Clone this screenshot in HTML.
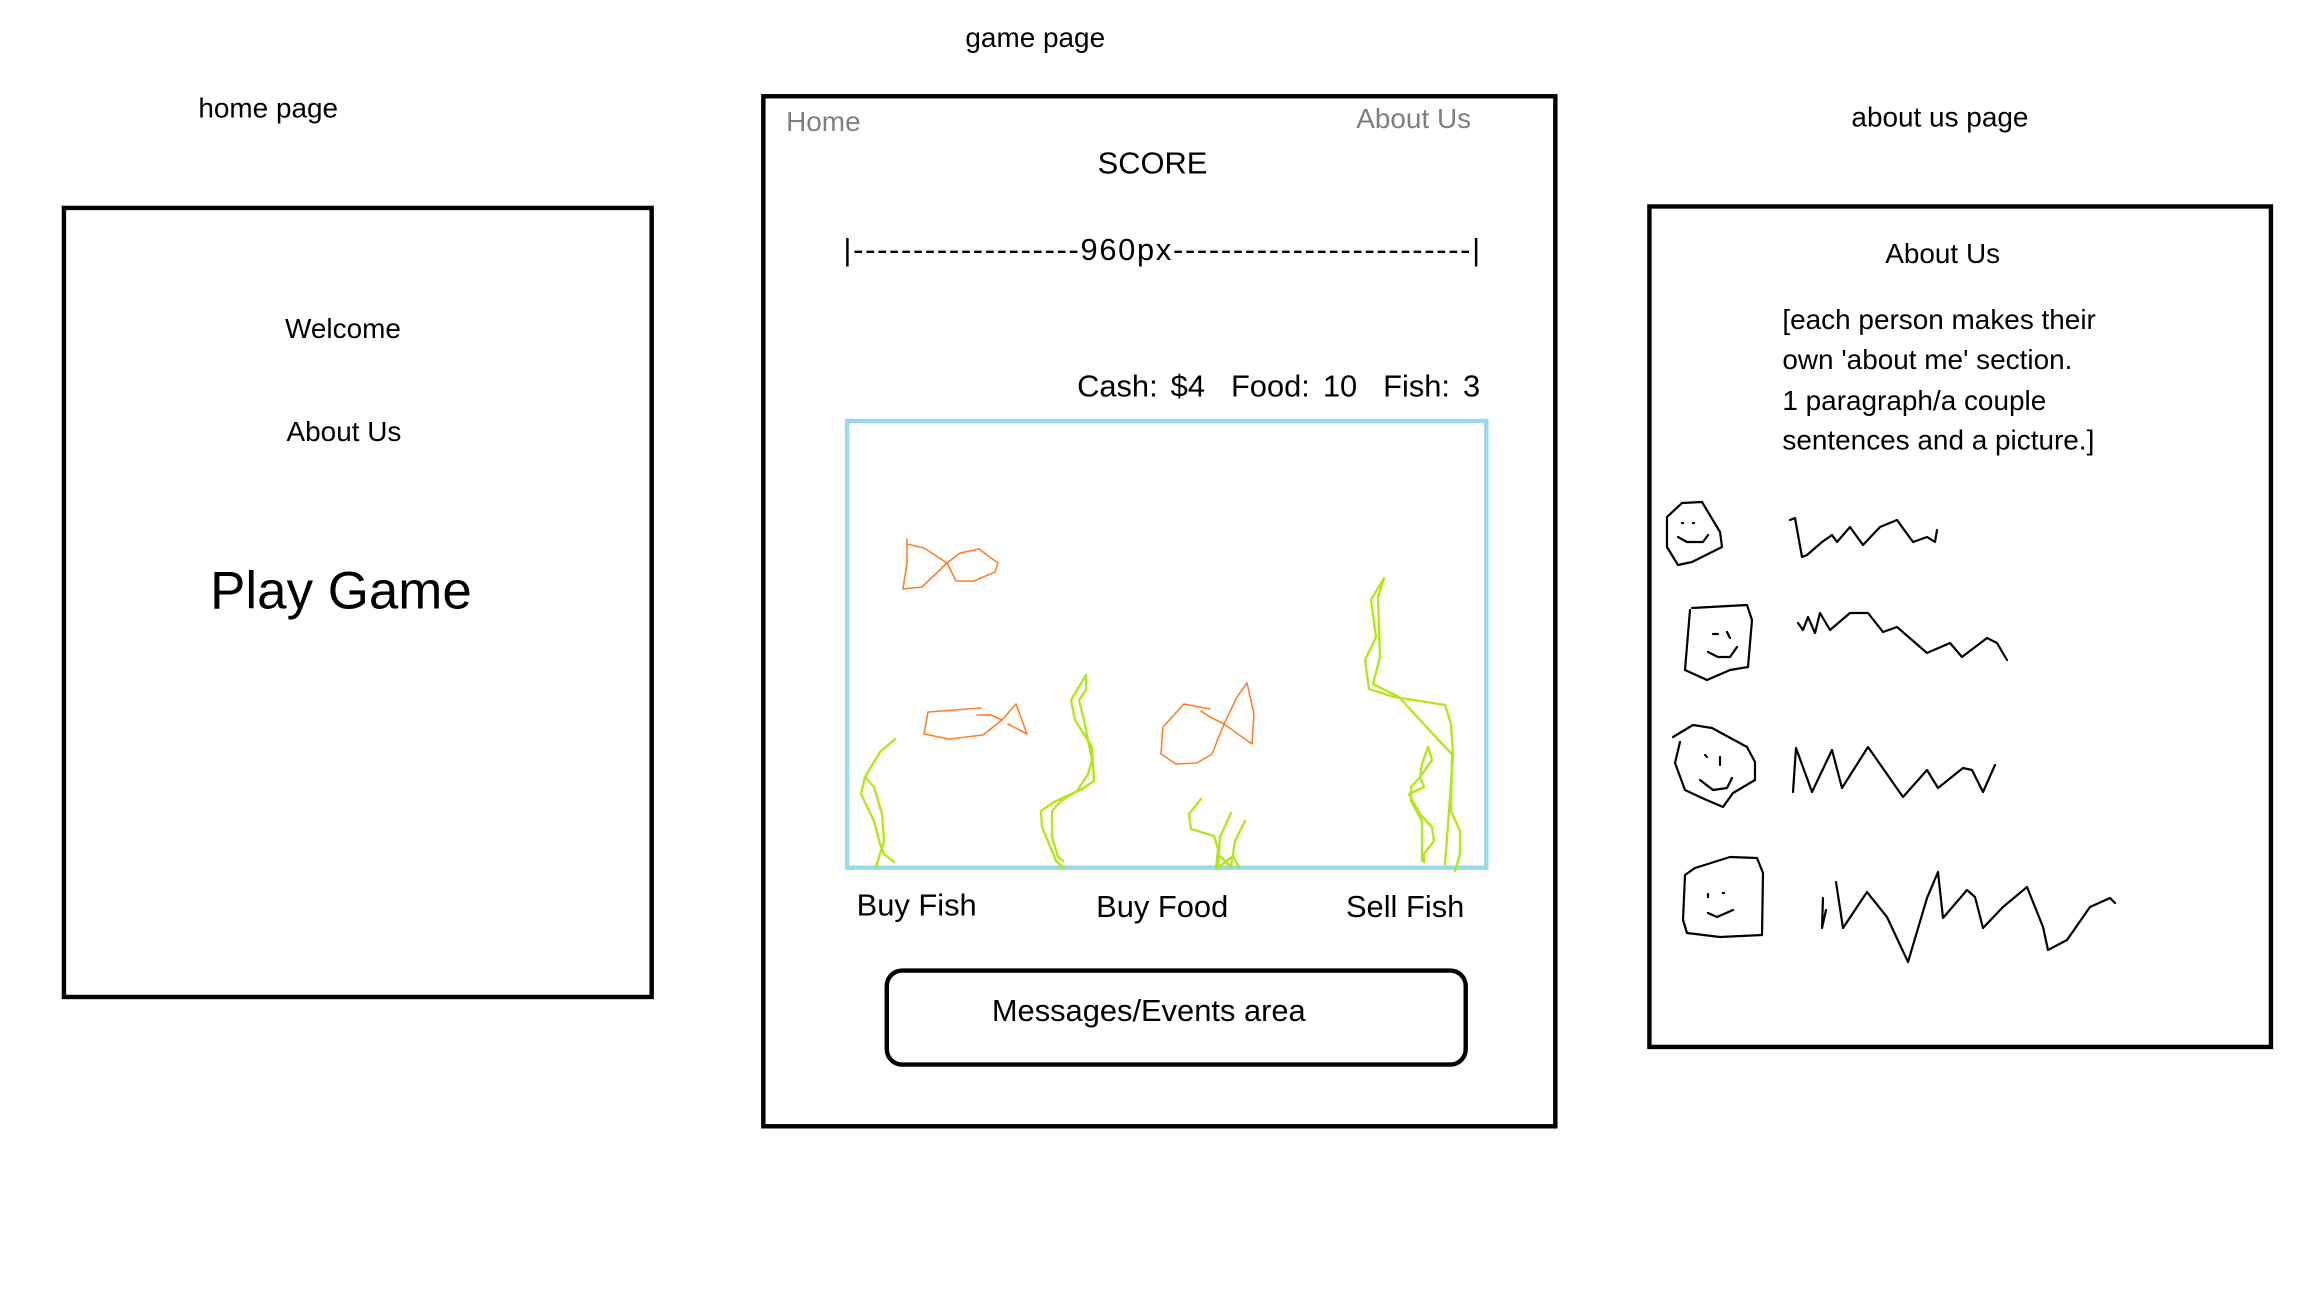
<!DOCTYPE html>
<html><head><meta charset="utf-8"><style>
html,body{margin:0;padding:0;background:#fff;width:2304px;height:1296px;overflow:hidden}
#wrap{position:absolute;left:0;top:0;width:1568px;height:882px;transform:scale(1.46939);transform-origin:0 0;font-family:"Liberation Sans",sans-serif;color:#000}
.t{position:absolute;white-space:nowrap;line-height:1}
.box{position:absolute;border:3px solid #000;box-sizing:border-box}
svg{position:absolute;left:0;top:0}
</style></head><body>
<div id="wrap">
<div class="t" style="left:135px;top:65px;font-size:19px">home page</div>
<div class="t" style="left:657px;top:17px;font-size:19px">game page</div>
<div class="t" style="left:1260px;top:71px;font-size:19px">about us page</div>

<div class="box" style="left:42px;top:140px;width:403px;height:540px"></div>
<div class="t" style="left:194px;top:215px;font-size:19px">Welcome</div>
<div class="t" style="left:195px;top:285px;font-size:19px">About Us</div>
<div class="t" style="left:143px;top:384px;font-size:36px">Play Game</div>

<div class="box" style="left:518px;top:64px;width:542px;height:704px"></div>
<div class="t" style="left:535px;top:74px;font-size:19px;color:#7f7f7f">Home</div>
<div class="t" style="left:923px;top:72px;font-size:19px;color:#7f7f7f">About Us</div>
<div class="t" style="left:747px;top:101px;font-size:21px">SCORE</div>
<div class="t" style="left:574px;top:160px;font-size:21px;letter-spacing:1.15px">|-------------------960px-------------------------|</div>
<div class="t" style="left:733px;top:253px;font-size:21px;word-spacing:3px">Cash: $4&nbsp;&nbsp;Food: 10&nbsp;&nbsp;Fish: 3</div>
<div class="box" style="left:575px;top:285px;width:438px;height:307px;border-color:#99d9ea"></div>
<div class="t" style="left:583px;top:606px;font-size:21px">Buy Fish</div>
<div class="t" style="left:746px;top:607px;font-size:21px">Buy Food</div>
<div class="t" style="left:916px;top:607px;font-size:21px">Sell Fish</div>
<div class="box" style="left:602px;top:659px;width:397px;height:67px;border-radius:12px"></div>
<div class="t" style="left:675px;top:678px;font-size:21px">Messages/Events area</div>

<div class="box" style="left:1121px;top:139px;width:426px;height:575px"></div>
<div class="t" style="left:1283px;top:164px;font-size:19px">About Us</div>
<div class="t" style="left:1213px;top:205px;font-size:19px;line-height:27.3px">[each person makes their<br>own 'about me' section.<br>1 paragraph/a couple<br>sentences and a picture.]</div>

<svg width="1568" height="882" viewBox="0 0 2304 1296" fill="none" stroke-linejoin="round" stroke-linecap="round">
<g stroke="#ff7f27" stroke-width="1.6">
<path d="M907,539 L907,563 L903,589 L922,587 L947,563 L924,548 L907,544 M947,563 L960,553 L979,549 L998,563 L995,572 L974,581 L956,581 Z"/>
<path d="M981,708 L928,712 L924,734 L949,739 L983,735 L1002,720 L991,715 L977,715 M1002,720 L1016,704 L1027,734 L1008,724"/>
<path d="M1210,709 L1184,704 L1163,727 L1161,754 L1176,764 L1197,763 L1212,754 L1224,724 L1210,717 L1201,711 M1224,724 L1237,697 L1247,683 L1254,714 L1252,744 Z"/>
</g>
<g stroke="#b5e61d" stroke-width="2.4">
<path d="M895,739 L880,752 L865,777 L861,794 L874,821 L880,844 L884,854 L894,862 M865,777 L874,787 L882,814 L884,841 L876,867"/>
<path d="M1086,675 L1071,700 L1075,720 L1092,747 L1094,781 L1082,789 L1054,802 L1041,811 L1042,827 L1052,851 L1056,861 L1065,869 M1086,675 L1086,690 L1079,700 L1084,720 L1092,760 L1088,774 L1077,791 L1061,801 L1052,811 L1052,837 L1058,857 L1063,861"/>
<path d="M1201,799 L1189,814 L1191,829 L1214,836 L1218,849 L1216,869 L1233,856 L1239,867 M1231,813 L1220,837 L1218,867 M1245,821 L1235,841 L1231,867 L1218,854"/>
<path d="M1384,578 L1371,600 L1376,637 L1365,660 L1369,689 L1394,697 L1445,705 L1451,724 L1453,754 L1449,811 L1445,864 M1384,578 L1378,597 L1380,657 L1373,684 L1399,697 L1420,720 L1445,747 L1452,754 L1451,811 L1460,831 L1460,854 L1455,871"/>
<path d="M1428,747 L1432,760 L1420,777 L1424,787 L1409,794 L1420,814 L1432,827 L1434,841 L1424,854 L1424,862 M1428,747 L1422,764 L1420,777 L1411,787 L1411,801 L1422,821 L1422,861"/>
</g>
<g stroke="#000" stroke-width="2.2">
<path d="M1702,502 L1720,532 L1722,547 L1692,562 L1678,565 L1667,547 L1667,517 L1682,503 Z M1678,537 L1687,542 L1703,542 L1708,535 M1682,523 l1,0 M1693,523 l1,0"/>
<path d="M1790,520 L1795,518 L1802,557 L1807,555 L1822,542 L1832,535 L1837,542 L1850,527 L1863,545 L1880,527 L1897,520 L1913,542 L1927,537 L1935,542 L1937,530"/>
<path d="M1692,608 L1747,605 L1752,620 L1748,667 L1730,670 L1707,680 L1685,670 L1690,610 M1708,652 L1718,657 L1730,657 L1737,647 M1713,634 l5,0 M1727,632 l3,6"/>
<path d="M1798,623 L1803,630 L1808,617 L1815,633 L1820,613 L1830,630 L1850,613 L1868,613 L1883,632 L1897,627 L1927,653 L1950,643 L1962,657 L1987,638 L1997,643 L2007,660"/>
<path d="M1673,737 L1693,725 L1712,728 L1747,747 L1755,762 L1755,780 L1733,793 L1723,807 L1702,798 L1685,790 L1675,763 L1680,742 M1700,780 L1713,790 L1727,788 L1732,778 M1705,755 l2,2 M1720,757 l0,8"/>
<path d="M1793,792 L1796,748 L1812,792 L1832,750 L1842,788 L1868,747 L1903,797 L1927,770 L1938,788 L1963,768 L1972,770 L1983,792 L1995,765"/>
<path d="M1695,868 L1730,857 L1757,858 L1763,873 L1762,935 L1720,937 L1687,933 L1683,920 L1685,875 Z M1708,913 L1717,917 L1733,910 M1708,894 l0,3 M1723,893 l1,0"/>
<path d="M1823,898 L1822,928 L1826,910 M1836,882 L1843,928 L1867,892 L1887,917 L1908,962 L1927,898 L1938,872 L1943,918 L1967,890 L1975,897 L1983,928 L2003,907 L2027,887 L2043,927 L2048,950 L2067,940 L2090,907 L2110,898 L2115,903"/>
</g>
</svg>
</div>
</body></html>
